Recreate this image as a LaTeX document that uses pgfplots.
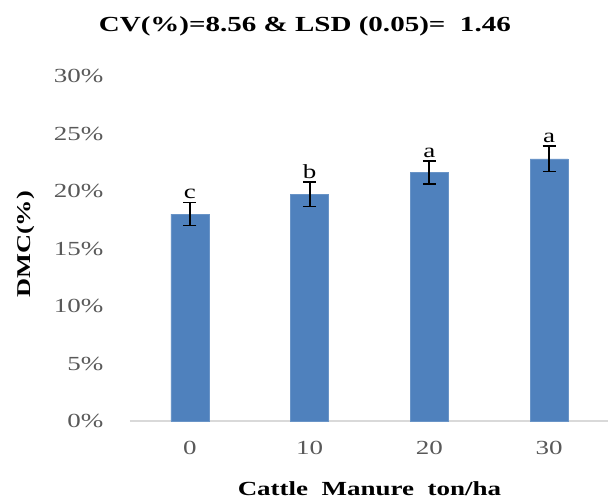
\documentclass[border=0pt]{standalone}
\usepackage{pgfplots}
\pgfplotsset{compat=1.18}
\usepackage{pgfplotstable}
\usepackage{fontspec}
\setmainfont{Liberation Serif}[FakeStretch=1.35]
\definecolor{barblue}{HTML}{4F81BD}
\definecolor{ticktext}{HTML}{595959}
\definecolor{axisgrey}{HTML}{D9D9D9}
\pgfplotstableread{
x y err top lab
0 18.0 1.00 19.0 c
1 19.7 1.05 20.75 b
2 21.6 1.00 22.6 a
3 22.8 1.10 23.9 a
}\datatable
\begin{document}
\begin{tikzpicture}
\useasboundingbox (-130pt,-78pt) rectangle (478pt,421pt);
\begin{axis}[
  at={(0pt,0pt)}, anchor=south west,
  scale only axis, width=479pt, height=345pt,
  xmin=-0.5, xmax=3.5, ymin=0, ymax=30,
  xtick={0,1,2,3}, xticklabels={0,10,20,30},
  ytick={0,5,10,15,20,25,30},
  yticklabel={\pgfmathprintnumber{\tick}\%},
  /pgf/number format/assume math mode=true,
  major tick length=0pt,
  axis x line*=bottom, axis y line*=left,
  x axis line style={draw=axisgrey, line width=1.5pt, -},
  y axis line style={draw=none},
  tick label style={font=\fontsize{20}{21}\selectfont, text=ticktext},
  yticklabel style={xshift=-23pt},
  xticklabel style={yshift=-17pt},
  xlabel={Cattle\ \ Manure\ \ ton/ha},
  xlabel style={at={(axis description cs:0.5,0)}, anchor=base, yshift=-74pt, font=\fontsize{20}{22}\selectfont\bfseries},
  ylabel={DMC(\%)},
  ylabel style={at={(axis description cs:-0.217,0.512)}, anchor=center, font=\fontsize{19.5}{20}\selectfont\bfseries},
  title={CV(\%)=8.56 \& LSD (0.05)=\ \ 1.46},
  title style={at={(axis description cs:0.365,1.113)}, anchor=base, font=\fontsize{21.5}{23}\selectfont\bfseries},
  clip=false,
]
\addplot[ybar, bar width=38pt, fill=barblue, draw=barblue!85!white, line width=0.5pt,
  error bars/.cd, y dir=both, y explicit,
  error bar style={line width=1.8pt, black},
  error mark options={rotate=90, mark size=6.5pt, line width=1.8pt, black}]
  table[x=x, y=y, y error=err] {\datatable};
\addplot[draw=none, mark=none, nodes near coords, point meta=explicit symbolic,
  every node near coord/.append style={anchor=south, font=\fontsize{20}{22}\selectfont, text=black}]
  table[x=x, y=top, meta=lab] {\datatable};
\end{axis}
\end{tikzpicture}
\end{document}
